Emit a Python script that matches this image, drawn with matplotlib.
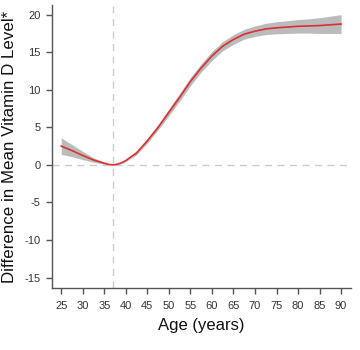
import matplotlib
matplotlib.use("Agg")
import matplotlib.pyplot as plt

plt.rcParams['font.family'] = ['Liberation Sans', 'DejaVu Sans']
plt.rcParams['axes.unicode_minus'] = False

# Estimated difference in mean vitamin D level by age, with 95% band
age = [25, 27.5, 30, 32.5, 35, 36, 37, 38, 39, 40, 42.5, 45, 47.5, 50, 52.5, 55, 57.5,
       60, 62.5, 65, 67.5, 70, 72.5, 75, 77.5, 80, 82.5, 85, 87.5, 90]
diff = [2.5, 1.9, 1.25, 0.65, 0.22, 0.07, 0.0, 0.08, 0.28, 0.58, 1.6, 3.2, 5.0, 7.0, 9.0,
        11.1, 12.9, 14.5, 15.8, 16.7, 17.4, 17.8, 18.1, 18.25, 18.35, 18.45, 18.5, 18.55,
        18.65, 18.75]
lower = [1.4, 1.1, 0.7, 0.35, 0.1, 0.02, -0.02, 0.03, 0.18, 0.45, 1.35, 2.9, 4.65, 6.55,
         8.5, 10.55, 12.35, 13.9, 15.2, 16.05, 16.75, 17.1, 17.35, 17.45, 17.5, 17.55,
         17.55, 17.5, 17.5, 17.5]
upper = [3.6, 2.7, 1.8, 0.95, 0.34, 0.12, 0.02, 0.13, 0.38, 0.71, 1.85, 3.5, 5.35, 7.45,
         9.5, 11.65, 13.45, 15.1, 16.4, 17.35, 18.05, 18.5, 18.85, 19.05, 19.2, 19.35,
         19.45, 19.6, 19.8, 20.0]

xticks = list(range(25, 95, 5))
yticks = [-15, -10, -5, 0, 5, 10, 15, 20]
ref_age = 37

fig = plt.figure(figsize=(3.6, 3.5), dpi=100)
ax = fig.add_axes([0.145, 0.177, 0.83, 0.809])

ax.axhline(0, color='#cccccc', lw=1.0, ls=(0, (5, 4)), zorder=1)
ax.axvline(ref_age, color='#cccccc', lw=1.0, ls=(0, (5, 4)), zorder=1)

ax.fill_between(age, lower, upper, color='#bbbbbb', lw=0, zorder=2)
ax.plot(age, diff, color='#d93030', lw=1.2, zorder=3)

ax.set_xlim(22.9, 92.3)
ax.set_ylim(-16.4, 21.3)
ax.set_xticks(xticks)
ax.set_yticks(yticks)

for side in ('top', 'right'):
    ax.spines[side].set_visible(False)
for side in ('left', 'bottom'):
    ax.spines[side].set_color('#555555')
    ax.spines[side].set_linewidth(1.0)

ax.tick_params(axis='both', colors='#555555', labelcolor='#333333',
               labelsize=8, length=4.5, width=1.0)
ax.tick_params(axis='x', pad=5)
ax.tick_params(axis='y', pad=4)

ax.set_xlabel('Age (years)', fontsize=12, color='#111111', labelpad=5)
ax.set_ylabel('Difference in Mean Vitamin D Level*', fontsize=12.2,
              color='#111111')
ax.yaxis.set_label_coords(-0.118, 0.5)

fig.savefig('out.png', dpi=100)
